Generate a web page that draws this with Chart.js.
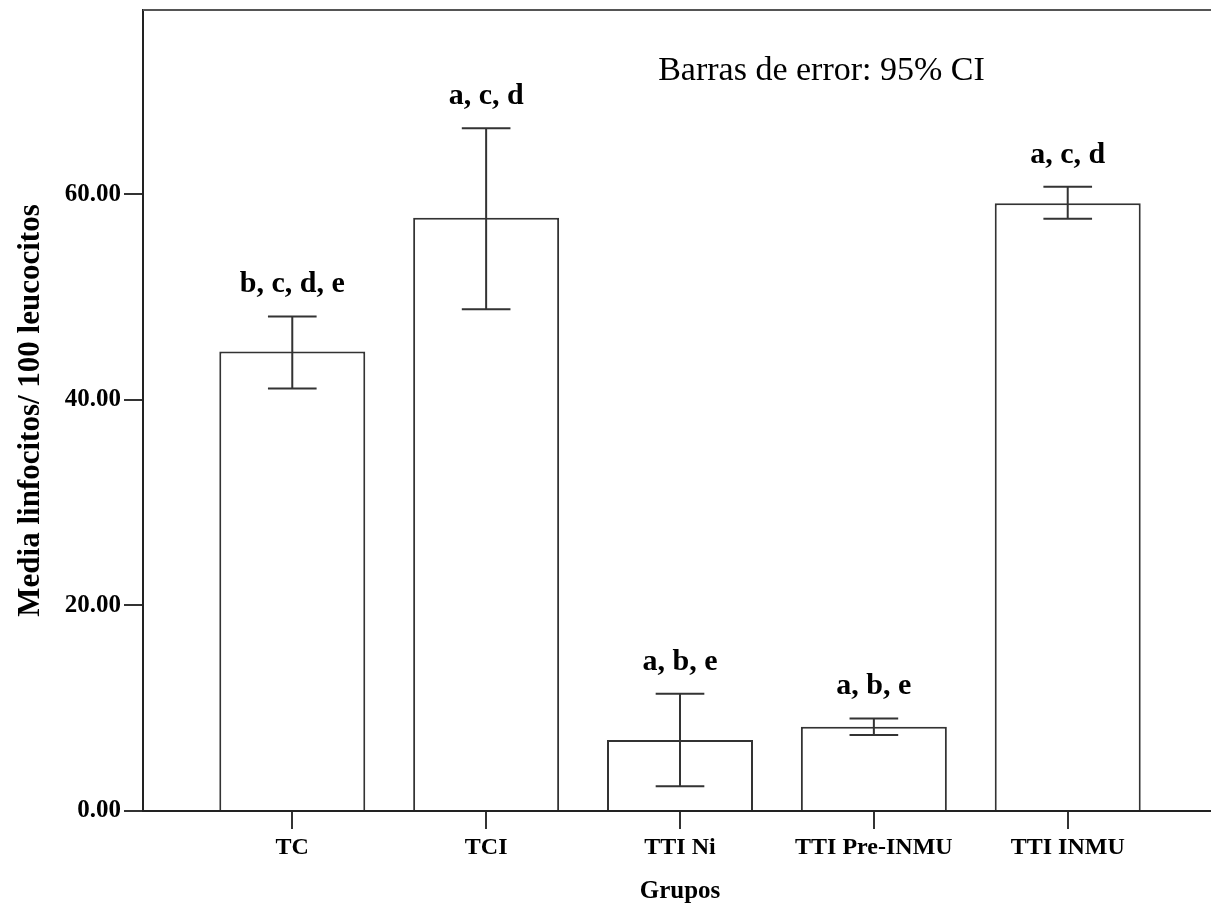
<!DOCTYPE html>
<html>
<head>
<meta charset="utf-8">
<script src="https://cdn.jsdelivr.net/npm/chart.js@4.4.1/dist/chart.umd.min.js"></script>
<style>
  html, body { margin: 0; padding: 0; background: #fff; overflow: hidden; }
</style>
</head>
<body>
<canvas id="myChart" width="1218" height="908"></canvas>
<script>
//DATOS
const grupos = ["TC", "TCI", "TTI Ni", "TTI Pre-INMU", "TTI INMU"];
const medias = [44.7, 57.7, 6.9, 8.2, 59.1];
const ic_inferior = [41.1, 48.8, 2.4, 7.4, 57.6];
const ic_superior = [48.1, 66.4, 11.4, 9.0, 60.7];
const letras = ["b, c, d, e", "a, c, d", "a, b, e", "a, b, e", "a, c, d"];
const ticks_y = [0, 20, 40, 60];

const FUENTE = '"Liberation Serif", "Times New Roman", serif';
const LINEA = "#333";

//PLUGIN barras de error + letras + marco
const barrasError = {
  id: "barrasError",
  afterDatasetsDraw(chart) {
    const ctx = chart.ctx;
    const x = chart.scales.x;
    const y = chart.scales.y;
    const area = chart.chartArea;
    const meta = chart.getDatasetMeta(0);
    ctx.save();

    // marco superior y derecho
    ctx.strokeStyle = "#555";
    ctx.lineWidth = 2;
    ctx.beginPath();
    ctx.moveTo(area.left, area.top);
    ctx.lineTo(area.right, area.top);
    ctx.lineTo(area.right, area.bottom);
    ctx.stroke();

    for (let i = 0; i < grupos.length; i++) {
      const bar = meta.data[i];
      const px = x.getPixelForValue(i + 1);
      const yHi = y.getPixelForValue(ic_superior[i]);
      const yLo = y.getPixelForValue(ic_inferior[i]);
      const cap = bar.width / 3;

      ctx.strokeStyle = LINEA;
      ctx.lineWidth = 2;
      ctx.beginPath();
      ctx.moveTo(px, yHi);
      ctx.lineTo(px, yLo);
      ctx.moveTo(px - cap / 2, yHi);
      ctx.lineTo(px + cap / 2, yHi);
      ctx.moveTo(px - cap / 2, yLo);
      ctx.lineTo(px + cap / 2, yLo);
      ctx.stroke();

      ctx.fillStyle = "#000";
      ctx.font = "bold 30px " + FUENTE;
      ctx.textAlign = "center";
      ctx.textBaseline = "alphabetic";
      ctx.fillText(letras[i], px, yHi - 24);
    }

    // nota
    ctx.font = "34px " + FUENTE;
    ctx.textAlign = "center";
    ctx.textBaseline = "middle";
    ctx.fillText("Barras de error: 95% CI", x.getPixelForValue(3.73), y.getPixelForValue(72.0));
    ctx.restore();
  },
};

const data = {
  datasets: [
    {
      label: "Media",
      data: medias.map((m, i) => ({ x: i + 1, y: m })),
      backgroundColor: "#fff",
      borderColor: LINEA,
      borderWidth: 2,
      barPercentage: 0.753,
      categoryPercentage: 1,
    },
  ],
};

const config = {
  type: "bar",
  data: data,
  plugins: [barrasError],
  options: {
    responsive: false,
    animation: false,
    layout: { padding: { top: 10, right: 1, left: 0, bottom: 0 } },
    plugins: {
      legend: { display: false },
      tooltip: { enabled: false },
    },
    scales: {
      x: {
        type: "linear",
        min: 0.23,
        max: 5.77,
        offset: false,
        afterBuildTicks: (axis) => {
          axis.ticks = grupos.map((g, i) => ({ value: i + 1 }));
        },
        afterFit: (scale) => {
          scale.height = 97;
          scale.paddingLeft = 0;
          scale.paddingRight = 0;
        },
        ticks: {
          autoSkip: false,
          maxRotation: 0,
          padding: 4,
          color: "#000",
          font: { family: FUENTE, size: 24, weight: "bold" },
          callback: (v) => grupos[Math.round(v) - 1],
        },
        grid: {
          offset: false,
          drawOnChartArea: false,
          drawTicks: true,
          tickLength: 18,
          color: LINEA,
          lineWidth: 2,
        },
        border: { display: true, color: "#222", width: 2 },
        title: {
          display: true,
          text: "Grupos",
          color: "#000",
          font: { family: FUENTE, size: 25, weight: "bold" },
          padding: { top: 4, bottom: 1 },
        },
      },
      y: {
        min: 0,
        max: 77.9,
        afterBuildTicks: (axis) => {
          axis.ticks = ticks_y.map((v) => ({ value: v }));
        },
        afterFit: (scale) => {
          scale.width = 143;
          scale.paddingTop = 0;
          scale.paddingBottom = 0;
        },
        ticks: {
          padding: 3,
          color: "#000",
          font: { family: FUENTE, size: 25, weight: "bold" },
          callback: (v) => Number(v).toFixed(2),
        },
        grid: {
          drawOnChartArea: false,
          drawTicks: true,
          tickLength: 19,
          color: LINEA,
          lineWidth: 2,
        },
        border: { display: true, color: "#222", width: 2 },
        title: {
          display: true,
          text: "Media linfocitos/ 100 leucocitos",
          color: "#000",
          font: { family: FUENTE, size: 31, weight: "bold" },
          padding: { top: 12, bottom: 0 },
        },
      },
    },
  },
};

const myChart = new Chart(document.getElementById("myChart"), config);
</script>
</body>
</html>
